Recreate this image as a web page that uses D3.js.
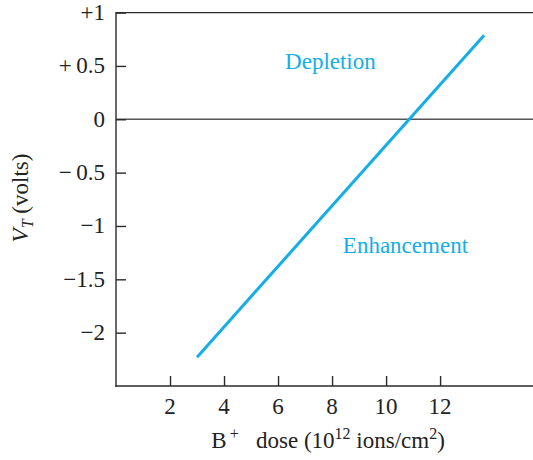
<!DOCTYPE html>
<html><head><meta charset="utf-8">
<script src="https://cdn.jsdelivr.net/npm/d3@7"></script>
<style>body{margin:0;background:#fff}svg{display:block}</style>
</head><body>
<script>
const doseX = [3, 13.63];
const vtY = [-2.23, 0.787];
const xTicks = [2, 4, 6, 8, 10, 12];
const yTicks = [1, 0.5, 0, -0.5, -1, -1.5, -2];
const yTickLabels = ["+1", "+\u20090.5", "0", "\u2212\u20090.5", "\u22121", "\u22121.5", "\u22122"];
const regionLabels = [{text: "Depletion", x: 6.26, y: 0.47}, {text: "Enhancement", x: 8.4, y: -1.25}];

const W = 533, H = 460;
const svg = d3.select("body").append("svg").attr("width", W).attr("height", H);
const font = "'Liberation Serif', 'Times New Roman', serif";
const fs = 23, fsSup = 16;
const x = d3.scaleLinear().domain([0, 15.44]).range([116, 533]);
const y = d3.scaleLinear().domain([-2.5, 1]).range([386, 12.6]);
const ink = "#2a2a2a";

// frame lines
svg.append("line").attr("x1", x(0)).attr("x2", W).attr("y1", y(1)).attr("y2", y(1)).attr("stroke", ink).attr("stroke-width", 1.4);
svg.append("line").attr("x1", x(0)).attr("x2", W).attr("y1", y(0)).attr("y2", y(0)).attr("stroke", "#555").attr("stroke-width", 1.6);

// y axis
const yAxis = d3.axisRight(y).tickValues(yTicks).tickSize(10).tickFormat("");
const gy = svg.append("g").attr("transform", `translate(${x(0)},0)`).call(yAxis);
gy.select(".domain").remove();
gy.selectAll(".tick line").attr("stroke", ink).attr("stroke-width", 1.4);
svg.append("line").attr("x1", x(0)).attr("x2", x(0)).attr("y1", y(1) - 0.7).attr("y2", y(-2.5) + 0.7).attr("stroke", ink).attr("stroke-width", 1.4);
svg.append("g").selectAll("text").data(yTicks).join("text")
  .attr("x", 105).attr("y", d => y(d) + 7.5)
  .attr("text-anchor", "end").attr("font-family", font).attr("font-size", fs).attr("fill", "#222")
  .text((d, i) => yTickLabels[i]);

// x axis
const xAxis = d3.axisTop(x).tickValues(xTicks).tickSize(10).tickFormat("");
const gx = svg.append("g").attr("transform", `translate(0,${y(-2.5)})`).call(xAxis);
gx.select(".domain").remove();
gx.selectAll(".tick line").attr("stroke", ink).attr("stroke-width", 1.4);
svg.append("line").attr("x1", x(0) - 0.7).attr("x2", W).attr("y1", y(-2.5)).attr("y2", y(-2.5)).attr("stroke", ink).attr("stroke-width", 1.4);
svg.append("g").selectAll("text").data(xTicks).join("text")
  .attr("x", d => x(d)).attr("y", 414)
  .attr("text-anchor", "middle").attr("font-family", font).attr("font-size", fs).attr("fill", "#222")
  .text(d => d);

// data line
const line = d3.line().x(d => x(d[0])).y(d => y(d[1]));
svg.append("path").datum(doseX.map((d, i) => [d, vtY[i]])).attr("d", line)
  .attr("fill", "none").attr("stroke", "#13aee9").attr("stroke-width", 3);

// region labels
svg.append("g").selectAll("text").data(regionLabels).join("text")
  .attr("x", d => x(d.x)).attr("y", d => y(d.y))
  .attr("font-family", font).attr("font-size", fs).attr("fill", "#13aee9")
  .text(d => d.text);

// x label
const xl = svg.append("text").attr("x", 328).attr("y", 448).attr("text-anchor", "middle")
  .attr("font-family", font).attr("font-size", fs).attr("fill", "#222");
xl.append("tspan").text("B");
xl.append("tspan").attr("font-size", fsSup).attr("dy", -9).text("\u2009+");
xl.append("tspan").attr("dy", 9).text("\u2002 dose (10");
xl.append("tspan").attr("font-size", fsSup).attr("dy", -9).text("12");
xl.append("tspan").attr("dy", 9).text(" ions/cm");
xl.append("tspan").attr("font-size", fsSup).attr("dy", -9).text("2");
xl.append("tspan").attr("dy", 9).text(")");

// y label
const yl = svg.append("text").attr("transform", "translate(28,198) rotate(-90)").attr("text-anchor", "middle")
  .attr("font-family", font).attr("font-size", fs).attr("fill", "#222");
yl.append("tspan").attr("font-style", "italic").text("V");
yl.append("tspan").attr("font-style", "italic").attr("font-size", fsSup).attr("dy", 5).text("T");
yl.append("tspan").attr("dy", -5).text(" (volts)");
</script>
</body></html>
